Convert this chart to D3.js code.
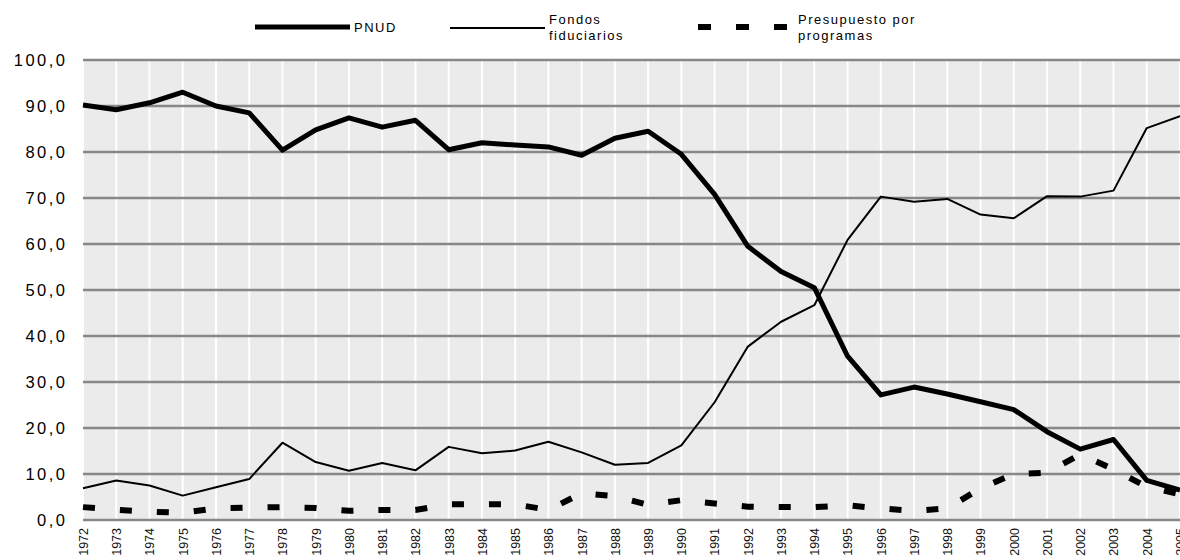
<!DOCTYPE html>
<html><head><meta charset="utf-8">
<script src="https://cdn.jsdelivr.net/npm/d3@7/dist/d3.min.js"></script>
<style>body{margin:0;background:#fff;font-family:"Liberation Sans",Arial,sans-serif;}</style>
</head><body><svg id="c" width="1180" height="560"></svg>
<script>
const years = d3.range(1972, 2006);
const pnud = [90.2,89.2,90.7,93.0,90.0,88.5,80.4,84.8,87.4,85.4,86.9,80.5,82.0,81.5,81.1,79.3,83.0,84.5,79.5,70.8,59.5,54.0,50.5,35.6,27.2,28.9,27.4,25.7,24.0,19.2,15.4,17.5,8.6,6.5];
const fondos = [6.9,8.6,7.5,5.3,7.1,8.9,16.8,12.6,10.7,12.4,10.8,15.9,14.5,15.1,17.0,14.7,12.0,12.4,16.2,25.6,37.7,43.1,46.7,60.9,70.3,69.2,69.8,66.4,65.6,70.4,70.3,71.6,85.2,87.8];
const presup = [2.8,2.2,1.8,1.6,2.5,2.7,2.8,2.6,2.0,2.2,2.2,3.4,3.4,3.4,2.2,5.8,5.2,3.3,4.3,3.6,2.9,2.8,2.8,3.2,2.5,2.0,2.5,6.9,10.0,10.3,14.3,11.0,7.2,5.6];
const yTicks = [0,10,20,30,40,50,60,70,80,90,100];
const seriesNames = ["PNUD", ["Fondos","fiduciarios"], ["Presupuesto por","programas"]];

const svg = d3.select("#c");
const x = d3.scaleLinear().domain([1972, 2005]).range([83, 1180]);
const y = d3.scaleLinear().domain([0, 100]).range([520, 60]);
const fmt = v => d3.format(".1f")(v).replace(".", ",");

svg.append("rect").attr("x", 83).attr("y", 60).attr("width", 1180-83).attr("height", 460).attr("fill", "#ebebeb");
svg.append("g").selectAll("line").data(years).join("line")
  .attr("x1", d => x(d)).attr("x2", d => x(d)).attr("y1", 60).attr("y2", 520)
  .attr("stroke", "#fff").attr("stroke-width", 2);
svg.append("g").selectAll("line").data(yTicks).join("line")
  .attr("x1", 83).attr("x2", 1180).attr("y1", d => y(d)).attr("y2", d => y(d))
  .attr("stroke", "#878787").attr("stroke-width", 2.5);

const ya = d3.axisLeft(y).tickValues(yTicks).tickFormat(fmt).tickSize(0).tickPadding(0);
const gy = svg.append("g").attr("transform", "translate(67.5,0)").call(ya);
gy.select(".domain").remove();
gy.selectAll("text").attr("font-size", 16.5).attr("font-family", "Liberation Sans, Arial, sans-serif")
  .attr("fill", "#000").attr("letter-spacing", "2.5px").attr("dy", "0.35em");

const xa = d3.axisBottom(x).tickValues(years).tickFormat(d3.format("d")).tickSize(0).tickPadding(0);
const gx = svg.append("g").attr("transform", "translate(0,528)").call(xa);
gx.select(".domain").remove();
gx.selectAll("text").attr("font-size", 12.5).attr("font-family", "Liberation Sans, Arial, sans-serif")
  .attr("fill", "#111").attr("text-anchor", "end").attr("dy", "0.35em").attr("dx", 0).attr("y", 0)
  .attr("transform", "rotate(-90)");

const line = d3.line().x((d, i) => x(years[i])).y(d => y(d));
svg.append("path").datum(presup).attr("d", line).attr("fill", "none").attr("stroke", "#000")
  .attr("stroke-width", 6).attr("stroke-dasharray", "12,25");
svg.append("path").datum(fondos).attr("d", line).attr("fill", "none").attr("stroke", "#000")
  .attr("stroke-width", 2).attr("stroke-linejoin", "round");
svg.append("path").datum(pnud).attr("d", line).attr("fill", "none").attr("stroke", "#000")
  .attr("stroke-width", 5).attr("stroke-linejoin", "round");

const lg = svg.append("g").attr("font-family", "Liberation Sans, Arial, sans-serif").attr("font-size", 13).attr("letter-spacing", "1.5px");
lg.append("line").attr("x1", 255).attr("x2", 350).attr("y1", 27).attr("y2", 27).attr("stroke", "#000").attr("stroke-width", 5);
lg.append("text").attr("x", 354).attr("y", 32).text(seriesNames[0]);
lg.append("line").attr("x1", 450).attr("x2", 545).attr("y1", 28).attr("y2", 28).attr("stroke", "#000").attr("stroke-width", 2);
lg.append("text").attr("x", 549).attr("y", 24).text(seriesNames[1][0]);
lg.append("text").attr("x", 549).attr("y", 40).text(seriesNames[1][1]);
lg.append("line").attr("x1", 698).attr("x2", 790).attr("y1", 27).attr("y2", 27).attr("stroke", "#000").attr("stroke-width", 6).attr("stroke-dasharray", "13,25");
lg.append("text").attr("x", 798).attr("y", 24).text(seriesNames[2][0]);
lg.append("text").attr("x", 798).attr("y", 40).text(seriesNames[2][1]);
</script></body></html>
